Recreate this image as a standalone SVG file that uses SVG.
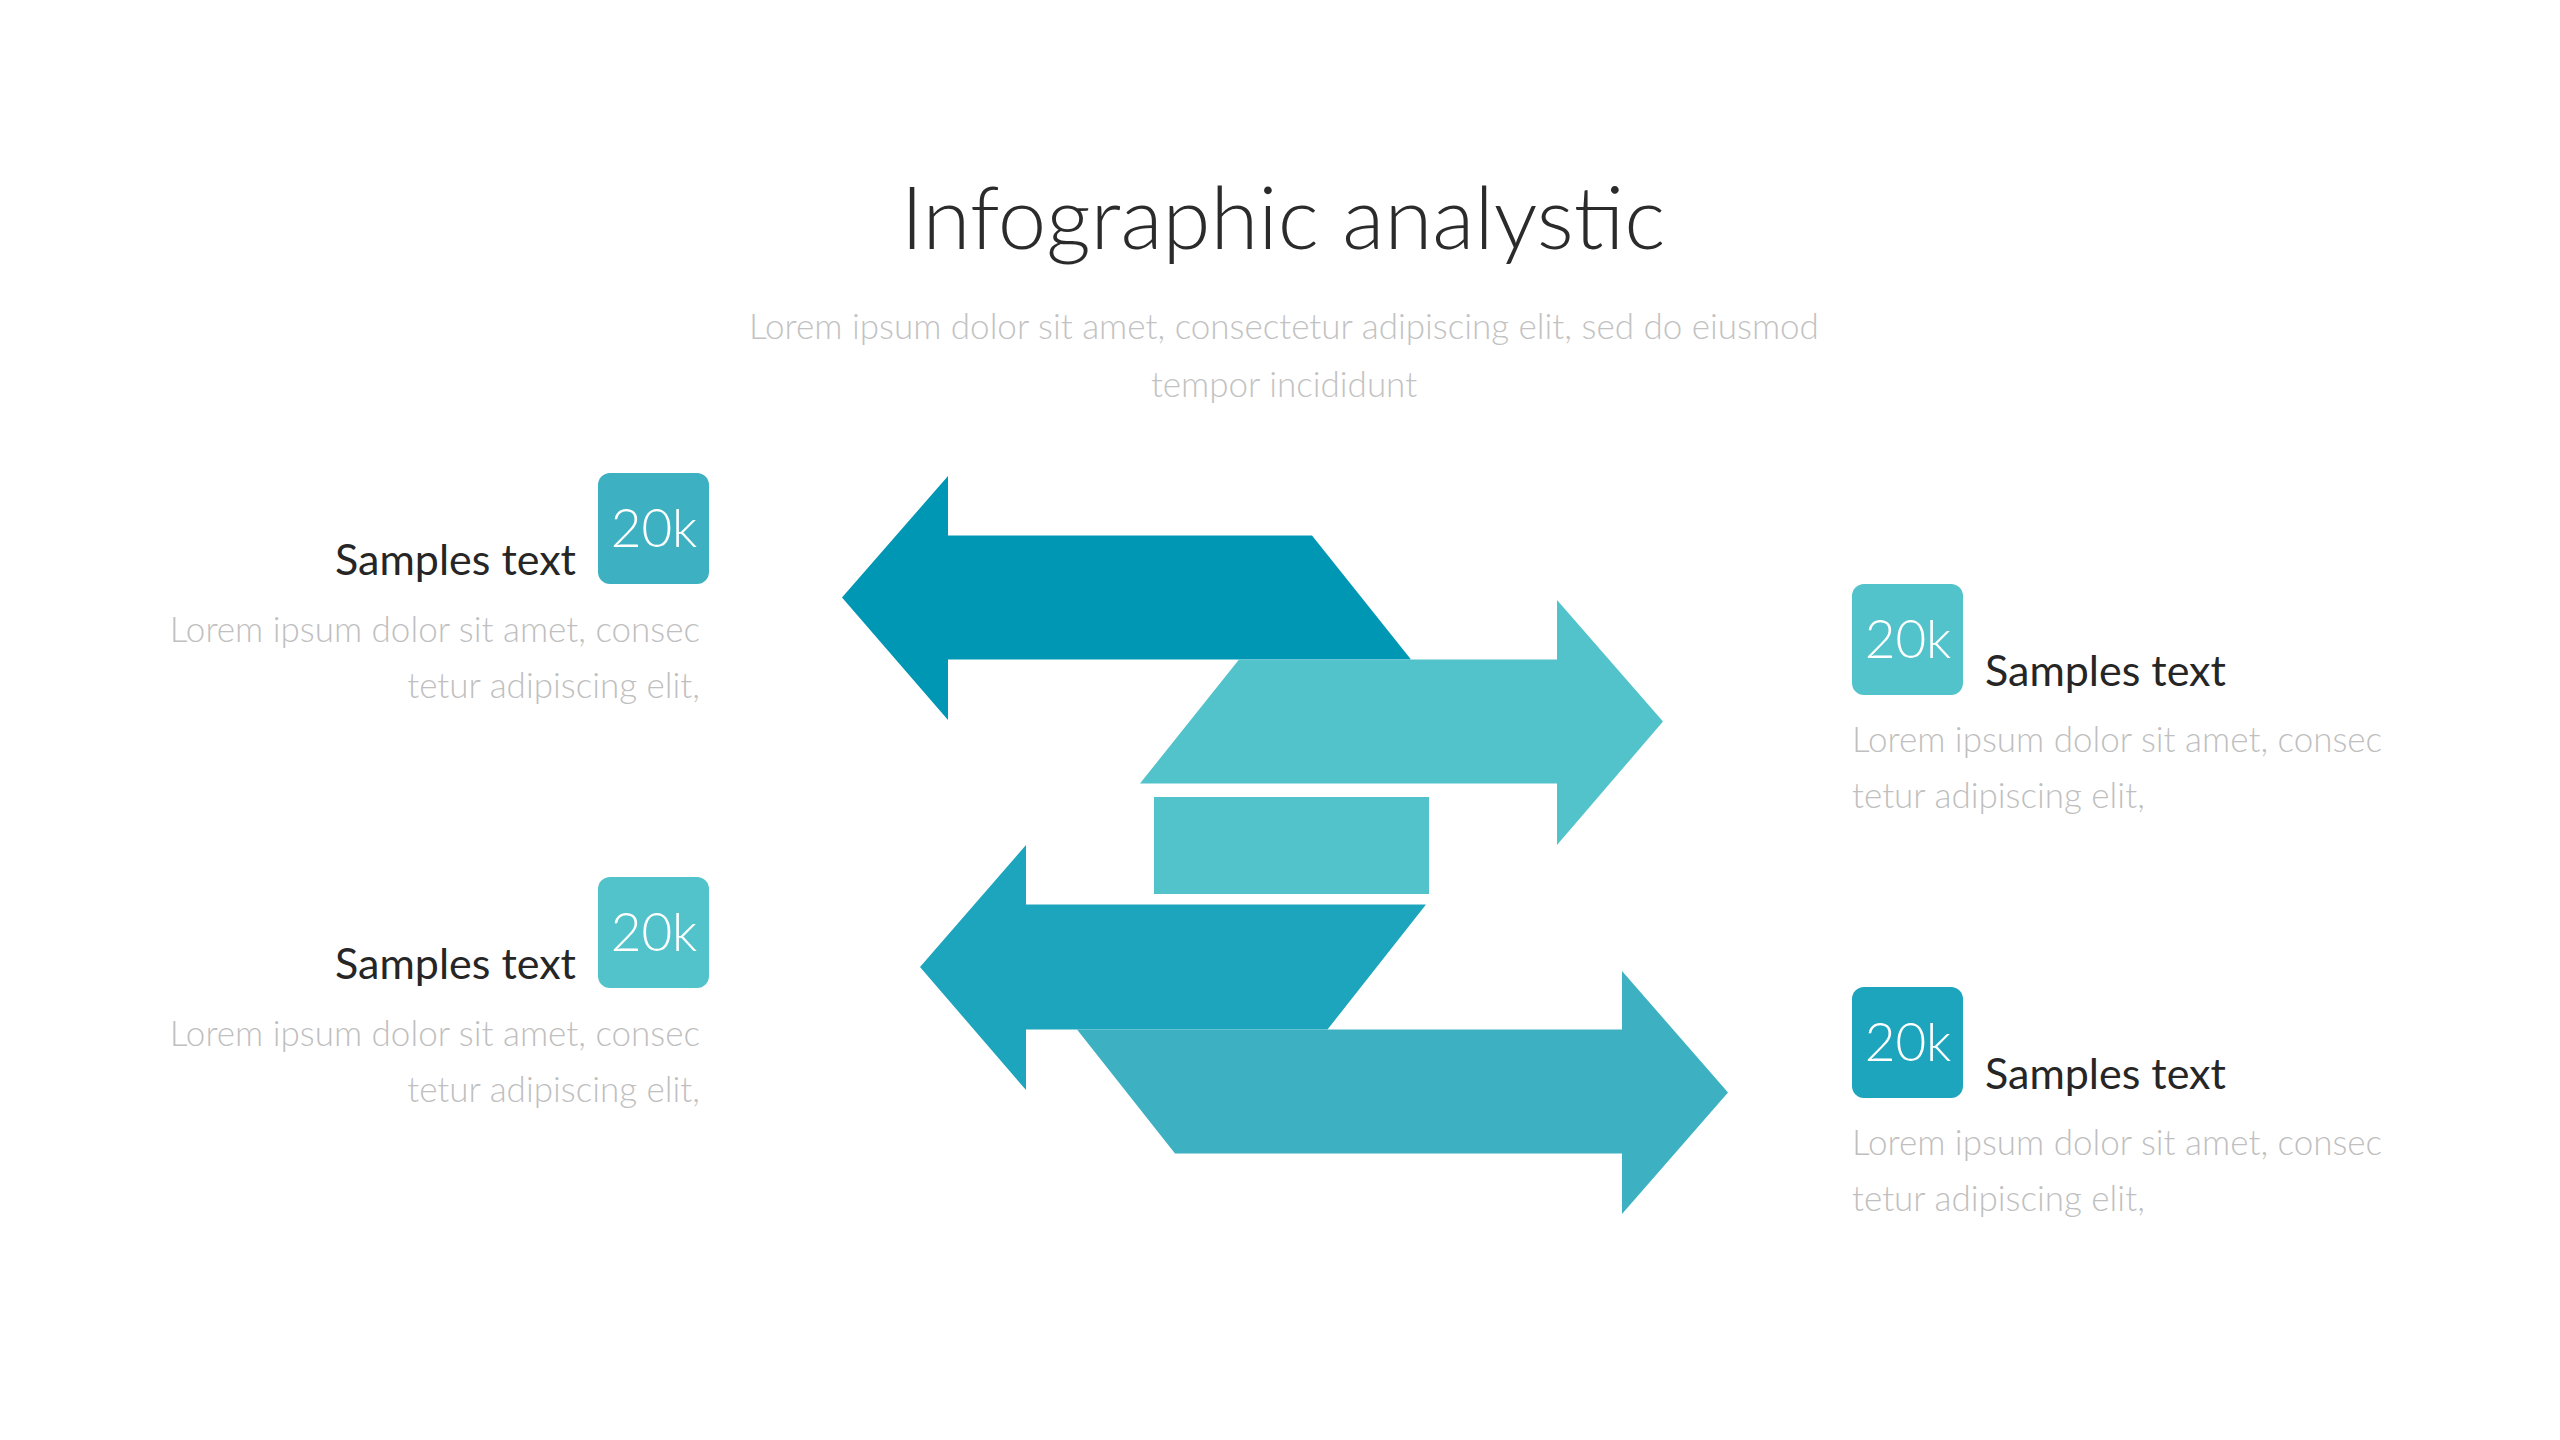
<svg xmlns="http://www.w3.org/2000/svg" width="2560" height="1440" viewBox="0 0 2560 1440">
<style>
.title{font-family:Lato,"Open Sans","Liberation Sans",sans-serif;font-size:87px;fill:#2b2b2b;font-weight:300}
.sub{font-family:Lato,"Open Sans","Liberation Sans",sans-serif;font-size:35px;fill:#c2c2c2;font-weight:300}
.head{font-family:Lato,"Open Sans","Liberation Sans",sans-serif;font-size:43px;fill:#262626;font-weight:400}
.body{font-family:Lato,"Open Sans","Liberation Sans",sans-serif;font-size:35px;fill:#bfbfbf;font-weight:300}
.num{font-family:Lato,"Open Sans","Liberation Sans",sans-serif;font-size:53px;fill:#ffffff;font-weight:300;text-anchor:middle}
</style>
<rect width="2560" height="1440" fill="#ffffff"/>
<g id="title">
<text class="title" x="1283" y="249" text-anchor="middle">Infographic analystic</text>
<text class="sub" x="1284" y="339" text-anchor="middle">Lorem ipsum dolor sit amet, consectetur adipiscing elit, sed do eiusmod</text>
<text class="sub" x="1284" y="397" text-anchor="middle">tempor incididunt</text>
</g>
<g id="arrows">
<path id="arrow1" fill="#0097b5" d="M842,597.5 L948,476 L948,535.5 L1312,535.5 L1411,659.5 L948,659.5 L948,720 Z"/>
<path id="arrow2" fill="#52c3ca" d="M1239,659.5 L1557,659.5 L1557,600 L1663,721.5 L1557,845 L1557,783.5 L1140,783.5 Z"/>
<rect id="bar" x="1154" y="797" width="275" height="97" fill="#52c3ca"/>
<path id="arrow3" fill="#1ca5bc" d="M920,967 L1026,845 L1026,904.5 L1426,904.5 L1327.5,1029.5 L1026,1029.5 L1026,1090 Z"/>
<path id="arrow4" fill="#3db1c2" d="M1077,1029.5 L1622,1029.5 L1622,971 L1728,1092.5 L1622,1214 L1622,1153.5 L1175,1153.5 Z"/>
</g>
<g id="item-left-1">
<rect x="598" y="473" width="111" height="111" rx="12" fill="#3db1c2"/>
<text class="num" x="654" y="547">20k</text>
<text class="head" x="576" y="575" text-anchor="end">Samples text</text>
<text class="body" x="700" y="642" text-anchor="end">Lorem ipsum dolor sit amet, consec</text>
<text class="body" x="700" y="698" text-anchor="end">tetur adipiscing elit,</text>
</g>
<g id="item-left-2">
<rect x="598" y="877" width="111" height="111" rx="12" fill="#52c3ca"/>
<text class="num" x="654" y="951">20k</text>
<text class="head" x="576" y="979" text-anchor="end">Samples text</text>
<text class="body" x="700" y="1046" text-anchor="end">Lorem ipsum dolor sit amet, consec</text>
<text class="body" x="700" y="1102" text-anchor="end">tetur adipiscing elit,</text>
</g>
<g id="item-right-1">
<rect x="1852" y="584" width="111" height="111" rx="12" fill="#52c3ca"/>
<text class="num" x="1908" y="658">20k</text>
<text class="head" x="1985" y="686">Samples text</text>
<text class="body" x="1852" y="752">Lorem ipsum dolor sit amet, consec</text>
<text class="body" x="1852" y="808">tetur adipiscing elit,</text>
</g>
<g id="item-right-2">
<rect x="1852" y="987" width="111" height="111" rx="12" fill="#1ca5bc"/>
<text class="num" x="1908" y="1061">20k</text>
<text class="head" x="1985" y="1089">Samples text</text>
<text class="body" x="1852" y="1155">Lorem ipsum dolor sit amet, consec</text>
<text class="body" x="1852" y="1211">tetur adipiscing elit,</text>
</g>
</svg>
